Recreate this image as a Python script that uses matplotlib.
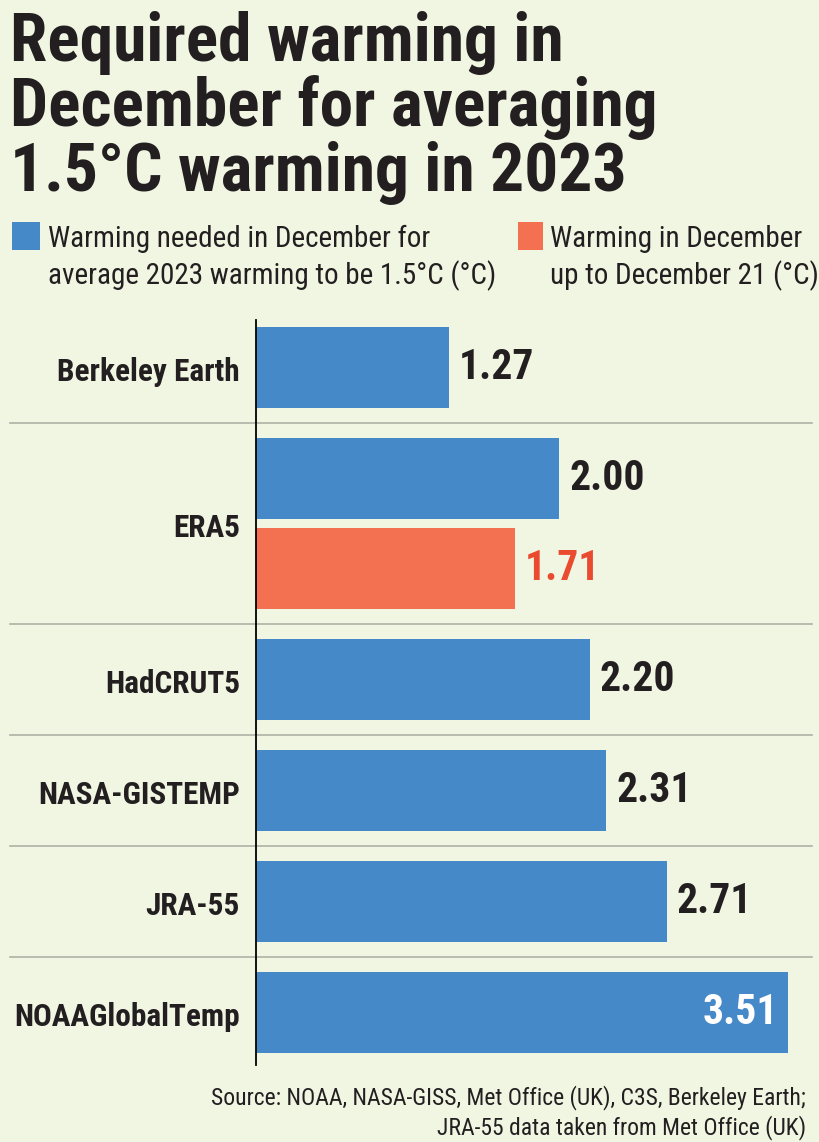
import matplotlib
matplotlib.use('Agg')
import matplotlib.pyplot as plt
from matplotlib import font_manager
from matplotlib.patches import Rectangle

# ---- data ----
datasets = ['Berkeley Earth', 'ERA5', 'HadCRUT5', 'NASA-GISTEMP', 'JRA-55', 'NOAAGlobalTemp']
needed = [1.27, 2.00, 2.20, 2.31, 2.71, 3.51]
so_far = [None, 1.71, None, None, None, None]

legend_needed = 'Warming needed in December for\naverage 2023 warming to be 1.5°C (°C)'
legend_so_far = 'Warming in December\nup to December 21 (°C)'
title_lines = ['Required warming in', 'December for averaging', '1.5°C warming in 2023']
source_lines = ['Source: NOAA, NASA-GISS, Met Office (UK), C3S, Berkeley Earth;',
                'JRA-55 data taken from Met Office (UK)']

# ---- style ----
BG = '#f1f6e3'
BLUE = '#4589c8'
ORANGE = '#f37150'
ORANGE_TXT = '#ea4b2f'
DARK = '#231f20'
GRID = '#b0b1a5'

installed = {f.name for f in font_manager.fontManager.ttflist}
fam = [f for f in ['Liberation Sans Narrow', 'Roboto Condensed', 'DejaVu Sans Condensed'] if f in installed]
plt.rcParams['font.family'] = fam + ['DejaVu Sans']

W, H = 820, 1142
fig = plt.figure(figsize=(W / 100, H / 100), dpi=100, facecolor=BG)


def fx(px):
    return px / W


def fy(py):
    return 1 - py / H


# title
for i, line in enumerate(title_lines):
    fig.text(fx(10), fy(61 + i * 65), line, fontsize=48.5, fontweight='bold',
             color=DARK, va='baseline', ha='left')

# legend
fig.add_artist(Rectangle((fx(12), fy(250)), fx(28), 28 / H, transform=fig.transFigure,
                         facecolor=BLUE, edgecolor='none'))
fig.add_artist(Rectangle((fx(518), fy(250)), fx(25), 28 / H, transform=fig.transFigure,
                         facecolor=ORANGE, edgecolor='none'))
for x0, txt in [(48, legend_needed), (550, legend_so_far)]:
    for j, line in enumerate(txt.split('\n')):
        fig.text(fx(x0), fy(247 + j * 37), line, fontsize=21, color=DARK,
                 va='baseline', ha='left')

# axes in pixel units vertically
ax_left, ax_right, ax_top, ax_bot = 256, 812, 320, 1065
ax = fig.add_axes([fx(ax_left), fy(ax_bot), (ax_right - ax_left) / W, (ax_bot - ax_top) / H])
ax.set_facecolor(BG)
scale = 151.6  # px per °C
ax.set_xlim(0, (ax_right - ax_left) / scale)
ax.set_ylim(ax_bot, ax_top)

bar_h = 81
y = 367.5
seps = []
for i, name in enumerate(datasets):
    ys = []
    ax.barh(y, needed[i], height=bar_h, color=BLUE)
    val = f'{needed[i]:.2f}'
    if needed[i] > 3:
        ax.annotate(val, (needed[i], y), xytext=(-10, 0), textcoords='offset pixels',
                    ha='right', va='center', fontsize=30, fontweight='bold', color='white')
    else:
        ax.annotate(val, (needed[i], y), xytext=(10, 0), textcoords='offset pixels',
                    ha='left', va='center', fontsize=30, fontweight='bold', color=DARK)
    ys.append(y)
    if so_far[i] is not None:
        y += 90
        ax.barh(y, so_far[i], height=bar_h, color=ORANGE)
        ax.annotate(f'{so_far[i]:.2f}', (so_far[i], y), xytext=(10, 0), textcoords='offset pixels',
                    ha='left', va='center', fontsize=30, fontweight='bold', color=ORANGE_TXT)
        ys.append(y)
    c = sum(ys) / len(ys)
    ax.annotate(name, (0, c), xytext=(-16, -4), textcoords='offset pixels',
                ha='right', va='center', fontsize=22.5, fontweight='bold', color=DARK)
    if i < len(datasets) - 1:
        seps.append(y + 55.5)
    y += 111

for s in seps:
    ax.axhline(s, xmin=(10 - ax_left) / (ax_right - ax_left), xmax=1.0, color=GRID,
               linewidth=1.2, clip_on=False, zorder=0)

for side in ['top', 'right', 'bottom']:
    ax.spines[side].set_visible(False)
ax.spines['left'].set_color('black')
ax.spines['left'].set_linewidth(1.3)
ax.set_xticks([])
ax.set_yticks([])

# source
for j, line in enumerate(source_lines):
    fig.text(fx(806), fy(1104 + j * 30), line, fontsize=17, color=DARK,
             va='baseline', ha='right')

fig.savefig('out.png', dpi=100, facecolor=BG)
